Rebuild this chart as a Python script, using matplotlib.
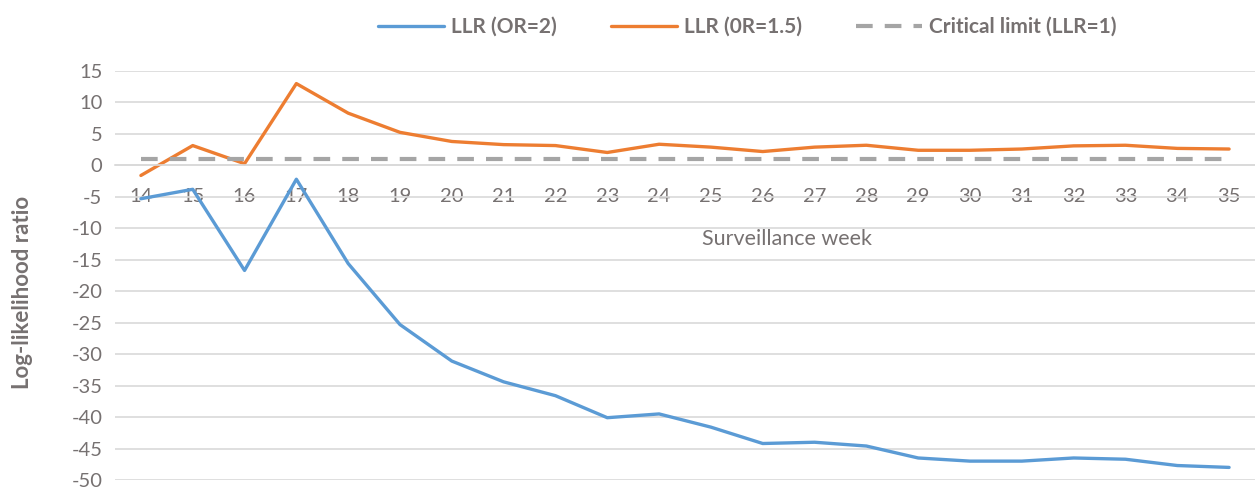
import matplotlib
matplotlib.use('Agg')
import matplotlib.pyplot as plt

plt.rcParams['font.family'] = ['Lato', 'DejaVu Sans']
plt.rcParams['axes.unicode_minus'] = False

# Data
weeks = [str(w) for w in range(14, 36)]
llr_or2 = [-5.3, -3.8, -16.7, -2.2, -15.6, -25.3, -31.1, -34.4, -36.6, -40.1, -39.5,
           -41.6, -44.2, -44.0, -44.6, -46.5, -47.0, -47.0, -46.5, -46.7, -47.7, -48.0]
llr_or15 = [-1.6, 3.15, 0.27, 13.0, 8.3, 5.25, 3.8, 3.3, 3.15, 2.05, 3.36,
            2.9, 2.2, 2.9, 3.2, 2.4, 2.4, 2.6, 3.1, 3.2, 2.7, 2.6]
critical = [1] * len(weeks)

text_col = '#767171'
grid_col = '#D9D9D9'

fig = plt.figure(figsize=(12.55, 4.9), dpi=100)
ax = fig.add_axes([115 / 1255, 10 / 490, 1140 / 1255, 409 / 490])

x = list(range(len(weeks)))
ax.plot(x, llr_or2, color='#5B9BD5', lw=2.4, label='LLR (OR=2)', solid_capstyle='round')
ax.plot(x, llr_or15, color='#ED7D31', lw=2.4, label='LLR (0R=1.5)', solid_capstyle='round')
ax.plot(x, critical, color='#A5A5A5', lw=3, ls=(0, (4, 2.9)), label='Critical limit (LLR=1)')

ax.set_xlim(-0.5, len(weeks) - 0.5)
ax.set_ylim(-50, 15)
ax.set_yticks(range(-50, 16, 5))
ax.yaxis.grid(True, color=grid_col, lw=1.2)
ax.set_axisbelow(True)

for s in ['top', 'right', 'left']:
    ax.spines[s].set_visible(False)
ax.spines['bottom'].set_position(('data', 0))
ax.spines['bottom'].set_color(grid_col)
ax.spines['bottom'].set_linewidth(1.2)

ax.set_xticks(x)
ax.set_xticklabels(weeks)
ax.tick_params(axis='x', length=0, pad=16, labelsize=14.5, labelcolor=text_col)
ax.tick_params(axis='y', length=0, pad=9, labelsize=14.5, labelcolor=text_col)

ax.text(12.47, -11.7, 'Surveillance week', ha='center', va='center',
        fontsize=15.5, color=text_col)
fig.text(23 / 1255, 1 - 292 / 490, 'Log-likelihood ratio', rotation=90,
         ha='center', va='center', fontsize=16, fontweight='bold', color=text_col)

fig.legend(loc='center', bbox_to_anchor=(747 / 1255, 1 - 27 / 490), ncol=3,
           frameon=False, handlelength=3.2, columnspacing=2.6, handletextpad=0.3,
           prop={'size': 15, 'weight': 'bold'}, labelcolor=text_col)

fig.savefig('out.png', dpi=100)
